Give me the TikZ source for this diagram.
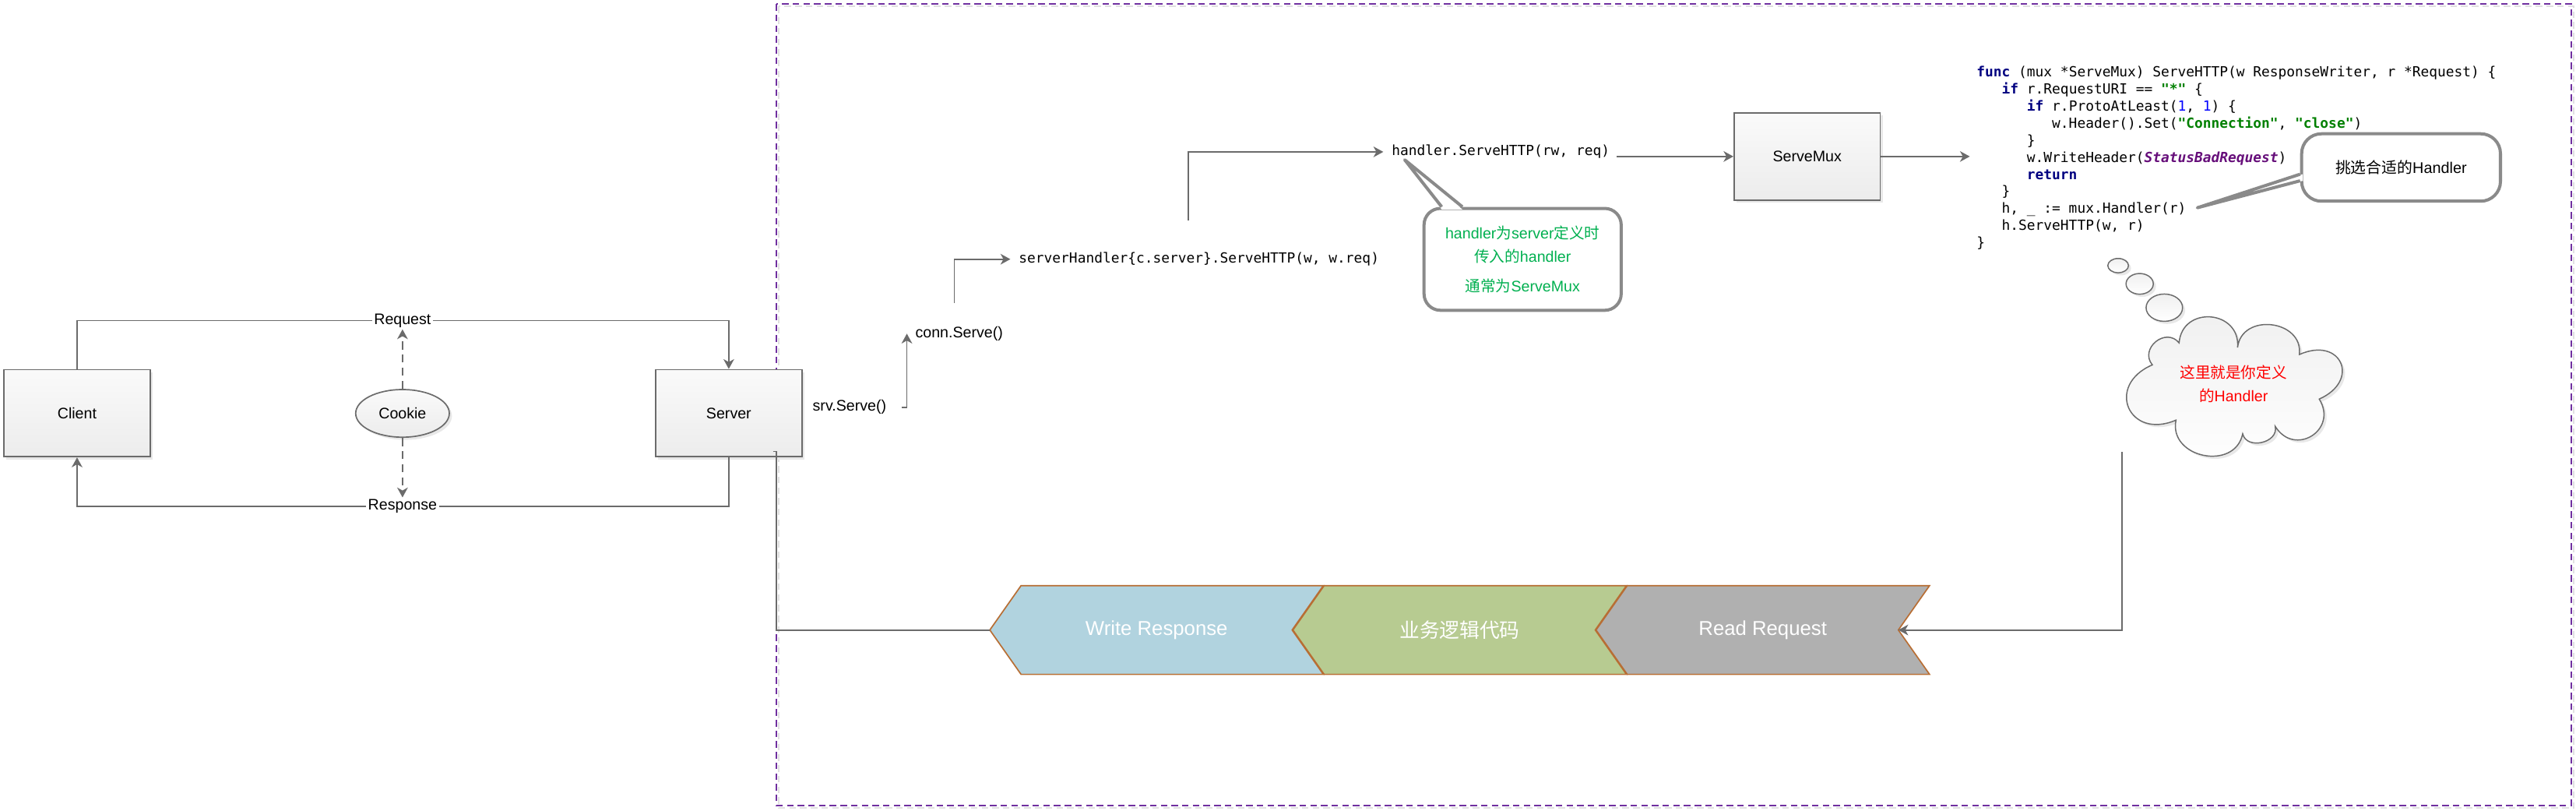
\documentclass[tikz,border=0pt]{standalone}
\usepackage{fontspec}
\setmainfont{Liberation Sans}
\setmonofont{DejaVu Sans Mono}
\newfontfamily\cjk{Noto Sans CJK SC}
\usepackage{xcolor}
\usetikzlibrary{arrows.meta}
\usetikzlibrary{calc}
\usetikzlibrary{positioning}
\usetikzlibrary{shapes.geometric}
\usetikzlibrary{shadows}

\definecolor{linegray}{RGB}{107,107,107}
\definecolor{boxtop}{RGB}{250,250,250}
\definecolor{boxbot}{RGB}{236,236,236}
\definecolor{notegray}{RGB}{138,138,138}
\definecolor{notegreen}{RGB}{0,176,80}
\definecolor{dreamred}{RGB}{255,0,0}
\definecolor{wrblue}{RGB}{177,211,223}
\definecolor{bizgreen}{RGB}{183,203,145}
\definecolor{rdgray}{RGB}{176,176,176}
\definecolor{chevedge}{RGB}{184,110,52}
\definecolor{framepurple}{RGB}{112,48,160}
\definecolor{kwnavy}{RGB}{0,0,128}
\definecolor{numblue}{RGB}{0,0,255}
\definecolor{strgreen}{RGB}{0,128,0}
\definecolor{cstpurple}{RGB}{102,14,122}

\newcommand{\cind}{\hspace*{1.806em}}

\tikzset{
  line/.style={draw=linegray, line width=0.8pt},
  flow/.style={line, -{Stealth[length=6pt,width=6.5pt,inset=1.8pt]}},
  lightshadow/.style={drop shadow={shadow xshift=1.6pt, shadow yshift=-1.6pt, fill=black!9, opacity=1}},
  box/.style={draw=linegray, line width=0.8pt, minimum width=89pt, minimum height=53pt,
    top color=boxtop, bottom color=boxbot, lightshadow, font=\fontsize{9.3}{11}\selectfont},
  cookie/.style={ellipse, draw=linegray, line width=0.8pt, minimum width=57pt, minimum height=29pt,
    inner sep=0pt, top color=boxtop, bottom color=boxbot, lightshadow, font=\fontsize{9.3}{11}\selectfont},
  lbl/.style={font=\fontsize{9.3}{11}\selectfont, inner sep=2pt},
  tag/.style={lbl, inner sep=1pt},
  code/.style={font=\fontsize{8.47}{10.4}\selectfont\ttfamily, inner sep=2pt},
  note/.style={draw=notegray, line width=1.9pt, rounded corners=10pt, fill=white, inner sep=2pt},
  notebd/.style={draw=notegray, line width=1.9pt, line join=round},
  puff/.style={draw=linegray, line width=0.7pt, top color=black!6, bottom color=white, lightshadow},
  dreamtext/.style={text=dreamred, align=center, font=\fontsize{9.3}{14.5}\selectfont},
  chev/.style={draw=chevedge, line width=0.8pt, line join=miter},
  chevtext/.style={text=white, font=\fontsize{12.2}{14}\selectfont},
  frame/.style={draw=framepurple, line width=1pt, dash pattern=on 4pt off 2.5pt},
}

\begin{document}
\begin{tikzpicture}[x=1pt,y=-1pt]
  \useasboundingbox (0,0) rectangle (1568,493);

  % server side frame
  \draw[frame, draw=black!12] (474,4) rectangle (1566.5,491.5);
  \draw[frame] (472.5,2.5) rectangle (1565,490);

  % client / server round trip
  \node[box] (client) at (46.9,251.4) {Client};
  \node[box] (server) at (443.6,251.4) {Server};
  \node[cookie] (cookie) at (245,251.5) {Cookie};
  \node[tag] (req) at (245,195) {Request};
  \node[tag] (resp) at (245,308) {Response};

  \draw[flow] (client.north) |- (req) -| (server.north);
  \draw[flow] (server.south) |- (resp) -| (client.south);
  \draw[flow, dash pattern=on 5pt off 3pt] (cookie) -- (req);
  \draw[flow, dash pattern=on 5pt off 3pt] (cookie) -- (resp);

  % call chain
  \node[lbl, anchor=west] (srv) at (492.5,247.8) {srv.Serve()};
  \node[lbl, anchor=west] (conn) at (555,203) {conn.Serve()};
  \node[code, anchor=west] (sh) at (618,157.7) {serverHandler\{c.server\}.ServeHTTP(w, w.req)};
  \node[code, anchor=west] (call) at (845,92.4) {handler.ServeHTTP(rw, req)};
  \node[box] (mux) at (1100,95.2) {ServeMux};

  \draw[flow] ([xshift=7pt]srv.east) -| ([xshift=-3pt]conn.west);
  \draw[flow] ([xshift=-3pt,yshift=12pt]conn.north) |- ([xshift=-3pt]sh.west);
  \draw[flow] ([xshift=-6.5pt,yshift=17pt]sh.north) |- ([xshift=-3pt]call.west);
  \draw[flow] ($(call.east |- mux.west)+(2,0)$) -- (mux.west);

  \node[code, anchor=north west, align=left, inner xsep=4pt, inner ysep=0pt] (src) at (1199,40) {%
\textcolor{kwnavy}{\bfseries func} (mux *ServeMux) ServeHTTP(w ResponseWriter, r *Request) \{\\
\cind\textcolor{kwnavy}{\bfseries if} r.RequestURI == \textcolor{strgreen}{\bfseries"*"} \{\\
\cind\cind\textcolor{kwnavy}{\bfseries if} r.ProtoAtLeast(\textcolor{numblue}{1}, \textcolor{numblue}{1}) \{\\
\cind\cind\cind w.Header().Set(\textcolor{strgreen}{\bfseries"Connection"}, \textcolor{strgreen}{\bfseries"close"})\\
\cind\cind\}\\
\cind\cind w.WriteHeader(\textcolor{cstpurple}{\bfseries\itshape StatusBadRequest})\\
\cind\cind\textcolor{kwnavy}{\bfseries return}\\
\cind\}\\
\cind h, \_ := mux.Handler(r)\\
\cind h.ServeHTTP(w, r)\\
\}};
  \draw[flow] (mux.east) -- (mux.east -| src.west);

  % speech notes
  \node[note, text=notegreen, minimum width=120pt, minimum height=62pt, align=center,
    font=\fontsize{9.3}{14.2}\selectfont] (note1) at (926.8,157.8)
    {handler{\cjk 为}server{\cjk 定义时}\\{\cjk 传入的}handler\\[3.7pt]{\cjk 通常为}ServeMux};
  \coordinate (tip1) at (855,97.2);
  \fill[white] ([xshift=11.7pt,yshift=-1.6pt]note1.north west) -- (tip1) -- ([xshift=24.3pt,yshift=-1.6pt]note1.north west) -- cycle;
  \draw[notebd] ([xshift=11.7pt]note1.north west) -- (tip1) -- ([xshift=24.3pt]note1.north west);

  \node[note, rounded corners=12pt, minimum width=121pt, minimum height=41pt,
    font=\fontsize{9.4}{11}\selectfont] (note2) at (1461.5,101.9) {{\cjk 挑选合适的}Handler};
  \coordinate (tip2) at (1337.5,126.4);
  \fill[white] ([xshift=1.6pt,yshift=-4.1pt]note2.west) -- (tip2) -- ([xshift=1.6pt,yshift=-8.1pt]note2.west) -- cycle;
  \draw[notebd] ([yshift=-4.1pt]note2.west) -- (tip2) -- ([yshift=-8.1pt]note2.west);

  % thought cloud
  \draw[puff] (1289.3,161.6) ellipse [x radius=6.3, y radius=4.35];
  \draw[puff] (1302.4,172.7) ellipse [x radius=8.3, y radius=6.3];
  \draw[puff] (1317.4,187.2) ellipse [x radius=11.1, y radius=8.3];
  \draw[puff] (1326.4,208.6) to[bend left=90, looseness=1.65] (1362,211.4)
    to[bend left=90, looseness=1.45] (1399.6,215.7)
    to[bend left=90, looseness=2.4] (1411.7,242.8)
    to[bend left=90, looseness=1.8] (1384.9,259.4)
    to[bend left=90, looseness=1.3] (1365.1,263.9)
    to[bend left=90, looseness=1.45] (1324.5,255.6)
    to[bend left=90, looseness=2.2] (1310.1,222)
    to[bend left=90, looseness=1.55] (1326.4,208.6) -- cycle;
  \node[dreamtext] (dream) at (1359.5,233.6) {{\cjk 这里就是你定义}\\{\cjk 的}Handler};

  % request pipeline
  \foreach \cx/\cfill/\cname/\ctext in {602.5/wrblue/wr/Write Response, 787/bizgreen/biz/{\cjk 业务逻辑代码}, 971.5/rdgray/rd/Read Request}{
    \draw[chev, fill=\cfill] (\cx,383.3) -- ++(19,-27) -- ++(184,0) -- ++(-19,27) coordinate (\cname-notch)
      -- ++(19,27) -- ++(-184,0) -- cycle;
    \coordinate (\cname-tip) at (\cx,383.3);
    \node[chevtext] (\cname) at (\cx+101.5,383.3) {\ctext};
  }
  \coordinate (cl) at (1291.5,275);
  \draw[flow] (cl) |- (rd-notch);
  \draw[line] ([xshift=-18pt,yshift=3.6pt]server.south east) -- ++(2,0) |- (wr-tip);
\end{tikzpicture}
\end{document}
